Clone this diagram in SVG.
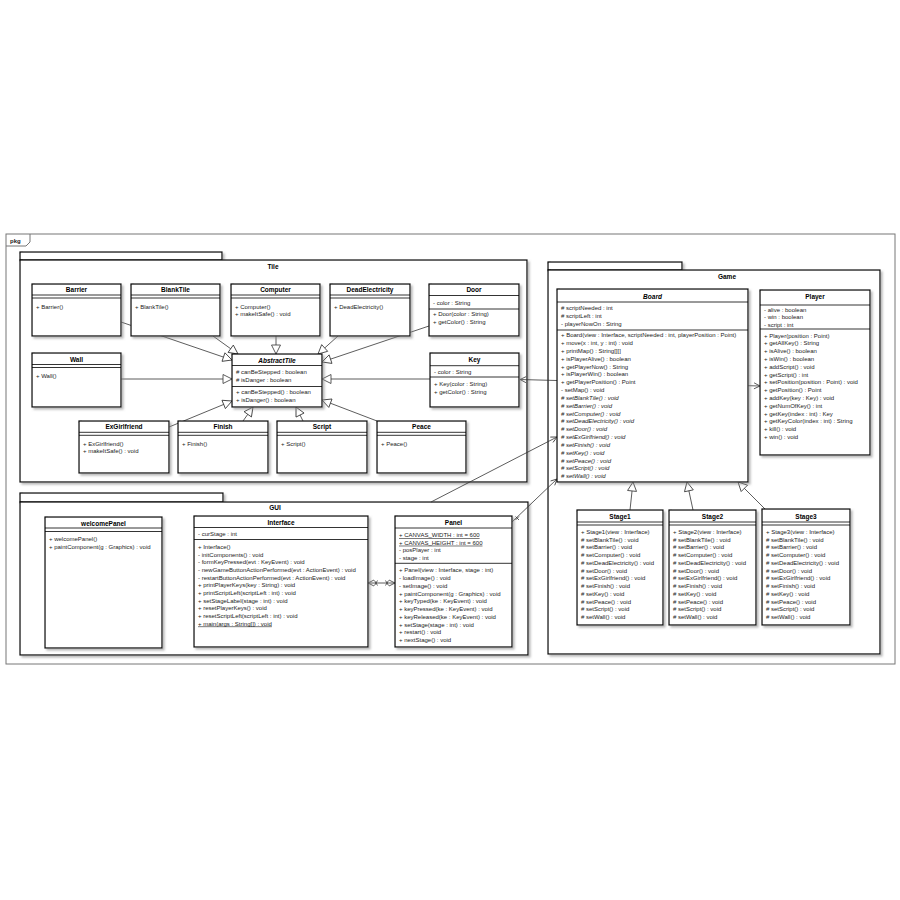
<svg xmlns="http://www.w3.org/2000/svg" width="900" height="900" viewBox="0 0 900 900">
<style>
.bx{fill:#fff;stroke:#000;stroke-width:1.2;filter:url(#sh)}
.pk{fill:#fff;stroke:#000;stroke-width:1.2;filter:url(#sh)}
.ln{stroke:#000;stroke-width:0.8}
.t{font-family:"Liberation Sans",Arial,sans-serif;font-size:6px;fill:#222}
.h{font-family:"Liberation Sans",Arial,sans-serif;font-size:6.5px;font-weight:bold;text-anchor:middle;fill:#000}
.it{font-style:italic}
.u{text-decoration:underline}
.c{stroke:#333;stroke-width:0.8;fill:none}
.g{marker-end:url(#tri)}
.a{marker-end:url(#opn)}
.ab{marker-start:url(#opn);marker-end:url(#opn)}
</style>
<defs>
<filter id="sh" x="-10%" y="-10%" width="130%" height="130%"><feDropShadow dx="2" dy="2" stdDeviation="0.8" flood-color="#888" flood-opacity="0.6"/></filter>
<marker id="tri" viewBox="-11 -6 12 12" refX="0" refY="0" markerWidth="12" markerHeight="12" markerUnits="userSpaceOnUse" orient="auto"><path d="M0,0 L-9,-4.5 L-9,4.5 Z" fill="#fff" stroke="#333" stroke-width="0.8"/></marker>
<marker id="opn" viewBox="-9 -5 10 10" refX="0" refY="0" markerWidth="10" markerHeight="10" markerUnits="userSpaceOnUse" orient="auto-start-reverse"><path d="M-6,-3 L0,0 L-6,3" fill="none" stroke="#333" stroke-width="0.8"/></marker>
</defs>
<rect width="900" height="900" fill="#fff"/>
<g id="pkg">
<rect x="6" y="234" width="889" height="430" fill="none" stroke="#777" stroke-width="1"/>
<path d="M6,246 H26 L30,242 V234" fill="none" stroke="#777" stroke-width="1"/>
<text x="10" y="243" class="t" style="font-weight:bold">pkg</text>
</g>
<g id="pkg-Tile">
<rect class="pk" x="20" y="252" width="202" height="8"/>
<rect class="pk" x="20" y="260" width="507" height="222"/>
<text class="h" x="273" y="269">Tile</text>
</g>
<g id="pkg-Game">
<rect class="pk" x="548" y="262" width="134" height="8"/>
<rect class="pk" x="548" y="270" width="332" height="384"/>
<text class="h" x="727" y="279">Game</text>
</g>
<g id="pkg-GUI">
<rect class="pk" x="20" y="493" width="203" height="9"/>
<rect class="pk" x="20" y="502" width="508" height="153"/>
<text class="h" x="275" y="510">GUI</text>
</g>

<g id="connectors">
<line class="c g" x1="121" y1="322" x2="232" y2="360"/>
<line class="c g" x1="213" y1="336" x2="238" y2="354"/>
<line class="c g" x1="276" y1="336" x2="276" y2="354"/>
<line class="c g" x1="338" y1="336" x2="318" y2="354"/>
<line class="c g" x1="429" y1="326" x2="322" y2="362"/>
<line class="c g" x1="430" y1="379" x2="322" y2="379"/>
<line class="c g" x1="121" y1="379" x2="232" y2="379"/>
<line class="c g" x1="169" y1="427" x2="232" y2="401"/>
<line class="c g" x1="243" y1="421" x2="253" y2="407"/>
<line class="c g" x1="303" y1="421" x2="296" y2="407"/>
<line class="c g" x1="377" y1="421" x2="322" y2="400"/>
<line class="c g" x1="630" y1="510" x2="633" y2="482"/>
<line class="c g" x1="693" y1="510" x2="687" y2="482"/>
<line class="c g" x1="765" y1="509" x2="738" y2="482"/>
<line class="c ab" x1="520" y1="379.5" x2="760" y2="386"/>
<line class="c a" x1="512" y1="522" x2="557" y2="479"/>
<path class="c" d="M515.5,516.5 l3.5,3.5 M519,516.5 l-3.5,3.5"/>
<line class="c a" x1="431" y1="502" x2="557" y2="437"/>
<line class="c ab" x1="368" y1="583" x2="395" y2="583"/>
<path class="c" d="M374.5,580.5 l3,5 M377.5,580.5 l-3,5 M385.5,580.5 l3,5 M388.5,580.5 l-3,5"/>
</g>

<g id="Barrier">
<rect class="bx" x="32" y="284" width="89" height="52"/>
<line class="ln" x1="32" y1="295" x2="121" y2="295"/><line class="ln" x1="32" y1="298" x2="121" y2="298"/>
<text class="h" x="76.5" y="292">Barrier</text>
<text class="t" x="36" y="308.5">+ Barrier()</text>
</g>
<g id="BlankTile">
<rect class="bx" x="131" y="284" width="89" height="52"/>
<line class="ln" x1="131" y1="295" x2="220" y2="295"/><line class="ln" x1="131" y1="298" x2="220" y2="298"/>
<text class="h" x="175.5" y="292">BlankTile</text>
<text class="t" x="135" y="308.5">+ BlankTile()</text>
</g>
<g id="Computer">
<rect class="bx" x="231" y="284" width="89" height="52"/>
<line class="ln" x1="231" y1="295" x2="320" y2="295"/><line class="ln" x1="231" y1="298" x2="320" y2="298"/>
<text class="h" x="275.5" y="292">Computer</text>
<text class="t"><tspan x="235" y="308.5">+ Computer()</tspan><tspan x="235" y="316.2">+ makeItSafe() : void</tspan></text>
</g>
<g id="DeadElectricity">
<rect class="bx" x="330" y="284" width="80" height="52"/>
<line class="ln" x1="330" y1="295" x2="410" y2="295"/><line class="ln" x1="330" y1="298" x2="410" y2="298"/>
<text class="h" x="370" y="292">DeadElectricity</text>
<text class="t" x="334" y="308.5">+ DeadElectricity()</text>
</g>
<g id="Door">
<rect class="bx" x="429" y="284" width="90" height="52"/>
<line class="ln" x1="429" y1="295.5" x2="519" y2="295.5"/><line class="ln" x1="429" y1="309" x2="519" y2="309"/>
<text class="h" x="474" y="292">Door</text>
<text class="t"><tspan x="433" y="304.5">- color : String</tspan><tspan x="433" y="316.3">+ Door(color : String)</tspan><tspan x="433" y="324">+ getColor() : String</tspan></text>
</g>
<g id="Wall">
<rect class="bx" x="32" y="353" width="89" height="54"/>
<line class="ln" x1="32" y1="364.5" x2="121" y2="364.5"/><line class="ln" x1="32" y1="367.5" x2="121" y2="367.5"/>
<text class="h" x="76.5" y="361.5">Wall</text>
<text class="t" x="36" y="378">+ Wall()</text>
</g>
<g id="AbstractTile">
<rect class="bx" x="232" y="354" width="90" height="53"/>
<line class="ln" x1="232" y1="365.5" x2="322" y2="365.5"/><line class="ln" x1="232" y1="386.5" x2="322" y2="386.5"/>
<text class="h it" x="277" y="362.5">AbstractTile</text>
<text class="t"><tspan x="236" y="374"># canBeStepped : boolean</tspan><tspan x="236" y="381.5"># isDanger : boolean</tspan><tspan x="236" y="394">+ canBeStepped() : boolean</tspan><tspan x="236" y="401.5">+ isDanger() : boolean</tspan></text>
</g>
<g id="Key">
<rect class="bx" x="430" y="353" width="89" height="54"/>
<line class="ln" x1="430" y1="365.7" x2="519" y2="365.7"/><line class="ln" x1="430" y1="377" x2="519" y2="377"/>
<text class="h" x="474.5" y="362">Key</text>
<text class="t"><tspan x="434" y="374">- color : String</tspan><tspan x="434" y="386.2">+ Key(color : String)</tspan><tspan x="434" y="394">+ getColor() : String</tspan></text>
</g>
<g id="ExGirlfriend">
<rect class="bx" x="79" y="421" width="90" height="52"/>
<line class="ln" x1="79" y1="432.3" x2="169" y2="432.3"/><line class="ln" x1="79" y1="435.3" x2="169" y2="435.3"/>
<text class="h" x="124" y="429">ExGirlfriend</text>
<text class="t"><tspan x="83" y="445.5">+ ExGirlfriend()</tspan><tspan x="83" y="453.2">+ makeItSafe() : void</tspan></text>
</g>
<g id="Finish">
<rect class="bx" x="178" y="421" width="90" height="52"/>
<line class="ln" x1="178" y1="432.3" x2="268" y2="432.3"/><line class="ln" x1="178" y1="435.3" x2="268" y2="435.3"/>
<text class="h" x="223" y="429">Finish</text>
<text class="t" x="182" y="445.5">+ Finish()</text>
</g>
<g id="Script">
<rect class="bx" x="277" y="421" width="90" height="52"/>
<line class="ln" x1="277" y1="432.3" x2="367" y2="432.3"/><line class="ln" x1="277" y1="435.3" x2="367" y2="435.3"/>
<text class="h" x="322" y="429">Script</text>
<text class="t" x="281" y="445.5">+ Script()</text>
</g>
<g id="Peace">
<rect class="bx" x="377" y="421" width="89" height="52"/>
<line class="ln" x1="377" y1="432.3" x2="466" y2="432.3"/><line class="ln" x1="377" y1="435.3" x2="466" y2="435.3"/>
<text class="h" x="421.5" y="429">Peace</text>
<text class="t" x="381" y="445.5">+ Peace()</text>
</g>

<g id="Board">
<rect class="bx" x="557" y="289" width="191" height="193"/>
<line class="ln" x1="557" y1="302" x2="748" y2="302"/><line class="ln" x1="557" y1="330" x2="748" y2="330"/>
<text class="h it" x="652.5" y="299">Board</text>
<text class="t"><tspan x="561" y="309.5"># scriptNeeded : int</tspan><tspan x="561" y="318"># scriptLeft : int</tspan><tspan x="561" y="326.3">- playerNowOn : String</tspan>
<tspan x="561" y="337.2">+ Board(view : Interface, scriptNeeded : int, playerPosition : Point)</tspan>
<tspan x="561" y="345">+ move(x : int, y : int) : void</tspan>
<tspan x="561" y="352.9">+ printMap() : String[][]</tspan>
<tspan x="561" y="360.7">+ isPlayerAlive() : boolean</tspan>
<tspan x="561" y="368.5">+ getPlayerNow() : String</tspan>
<tspan x="561" y="376.4">+ isPlayerWin() : boolean</tspan>
<tspan x="561" y="384.2">+ getPlayerPosition() : Point</tspan>
<tspan x="561" y="392">- setMap() : void</tspan></text>
<text class="t it"><tspan x="561" y="399.8"># setBlankTile() : void</tspan>
<tspan x="561" y="407.7"># setBarrier() : void</tspan>
<tspan x="561" y="415.5"># setComputer() : void</tspan>
<tspan x="561" y="423.3"># setDeadElectricity() : void</tspan>
<tspan x="561" y="431.2"># setDoor() : void</tspan>
<tspan x="561" y="439"># setExGirlfriend() : void</tspan>
<tspan x="561" y="446.8"># setFinish() : void</tspan>
<tspan x="561" y="454.7"># setKey() : void</tspan>
<tspan x="561" y="462.5"># setPeace() : void</tspan>
<tspan x="561" y="470.3"># setScript() : void</tspan>
<tspan x="561" y="478.1"># setWall() : void</tspan></text>
</g>
<g id="Player">
<rect class="bx" x="760" y="290" width="110" height="165"/>
<line class="ln" x1="760" y1="305" x2="870" y2="305"/><line class="ln" x1="760" y1="329" x2="870" y2="329"/>
<text class="h" x="815" y="298.5">Player</text>
<text class="t"><tspan x="764" y="311.5">- alive : boolean</tspan><tspan x="764" y="319">- win : boolean</tspan><tspan x="764" y="326.5">- script : int</tspan>
<tspan x="764" y="337.5">+ Player(position : Point)</tspan>
<tspan x="764" y="345.3">+ getAllKey() : String</tspan>
<tspan x="764" y="353.1">+ isAlive() : boolean</tspan>
<tspan x="764" y="360.9">+ isWin() : boolean</tspan>
<tspan x="764" y="368.7">+ addScript() : void</tspan>
<tspan x="764" y="376.5">+ getScript() : int</tspan>
<tspan x="764" y="384.3">+ setPosition(position : Point) : void</tspan>
<tspan x="764" y="392.1">+ getPosition() : Point</tspan>
<tspan x="764" y="399.9">+ addKey(key : Key) : void</tspan>
<tspan x="764" y="407.7">+ getNumOfKey() : int</tspan>
<tspan x="764" y="415.5">+ getKey(index : int) : Key</tspan>
<tspan x="764" y="423.3">+ getKeyColor(index : int) : String</tspan>
<tspan x="764" y="431.1">+ kill() : void</tspan>
<tspan x="764" y="438.9">+ win() : void</tspan></text>
</g>
<g id="Stage1">
<rect class="bx" x="577" y="510" width="86" height="115"/>
<line class="ln" x1="577" y1="522" x2="663" y2="522"/><line class="ln" x1="577" y1="525" x2="663" y2="525"/>
<text class="h" x="620" y="519">Stage1</text>
<text class="t"><tspan x="581" y="533.9">+ Stage1(view : Interface)</tspan>
<tspan x="581" y="541.6"># setBlankTile() : void</tspan>
<tspan x="581" y="549.4"># setBarrier() : void</tspan>
<tspan x="581" y="557.1"># setComputer() : void</tspan>
<tspan x="581" y="564.8"># setDeadElectricity() : void</tspan>
<tspan x="581" y="572.6"># setDoor() : void</tspan>
<tspan x="581" y="580.3"># setExGirlfriend() : void</tspan>
<tspan x="581" y="588"># setFinish() : void</tspan>
<tspan x="581" y="595.7"># setKey() : void</tspan>
<tspan x="581" y="603.5"># setPeace() : void</tspan>
<tspan x="581" y="611.2"># setScript() : void</tspan>
<tspan x="581" y="618.9"># setWall() : void</tspan></text>
</g>
<g id="Stage2">
<rect class="bx" x="669" y="510" width="87" height="115"/>
<line class="ln" x1="669" y1="522" x2="756" y2="522"/><line class="ln" x1="669" y1="525" x2="756" y2="525"/>
<text class="h" x="712.5" y="519">Stage2</text>
<text class="t"><tspan x="673" y="533.9">+ Stage2(view : Interface)</tspan>
<tspan x="673" y="541.6"># setBlankTile() : void</tspan>
<tspan x="673" y="549.4"># setBarrier() : void</tspan>
<tspan x="673" y="557.1"># setComputer() : void</tspan>
<tspan x="673" y="564.8"># setDeadElectricity() : void</tspan>
<tspan x="673" y="572.6"># setDoor() : void</tspan>
<tspan x="673" y="580.3"># setExGirlfriend() : void</tspan>
<tspan x="673" y="588"># setFinish() : void</tspan>
<tspan x="673" y="595.7"># setKey() : void</tspan>
<tspan x="673" y="603.5"># setPeace() : void</tspan>
<tspan x="673" y="611.2"># setScript() : void</tspan>
<tspan x="673" y="618.9"># setWall() : void</tspan></text>
</g>
<g id="Stage3">
<rect class="bx" x="762" y="509" width="88" height="116"/>
<line class="ln" x1="762" y1="522" x2="850" y2="522"/><line class="ln" x1="762" y1="525" x2="850" y2="525"/>
<text class="h" x="806" y="518.5">Stage3</text>
<text class="t"><tspan x="766" y="533.9">+ Stage3(view : Interface)</tspan>
<tspan x="766" y="541.6"># setBlankTile() : void</tspan>
<tspan x="766" y="549.4"># setBarrier() : void</tspan>
<tspan x="766" y="557.1"># setComputer() : void</tspan>
<tspan x="766" y="564.8"># setDeadElectricity() : void</tspan>
<tspan x="766" y="572.6"># setDoor() : void</tspan>
<tspan x="766" y="580.3"># setExGirlfriend() : void</tspan>
<tspan x="766" y="588"># setFinish() : void</tspan>
<tspan x="766" y="595.7"># setKey() : void</tspan>
<tspan x="766" y="603.5"># setPeace() : void</tspan>
<tspan x="766" y="611.2"># setScript() : void</tspan>
<tspan x="766" y="618.9"># setWall() : void</tspan></text>
</g>

<g id="welcomePanel">
<rect class="bx" x="45" y="517" width="117" height="131"/>
<line class="ln" x1="45" y1="528" x2="162" y2="528"/><line class="ln" x1="45" y1="531.5" x2="162" y2="531.5"/>
<text class="h" x="103.5" y="525.5">welcomePanel</text>
<text class="t"><tspan x="49" y="540.5">+ welcomePanel()</tspan><tspan x="49" y="548.5">+ paintComponent(g : Graphics) : void</tspan></text>
</g>
<g id="Interface">
<rect class="bx" x="194" y="516" width="174" height="131"/>
<line class="ln" x1="194" y1="527.5" x2="368" y2="527.5"/><line class="ln" x1="194" y1="539.5" x2="368" y2="539.5"/>
<text class="h" x="281" y="524.5">Interface</text>
<text class="t"><tspan x="198" y="536.2">- curStage : int</tspan>
<tspan x="198" y="548.9">+ Interface()</tspan>
<tspan x="198" y="556.6">- initComponents() : void</tspan>
<tspan x="198" y="564.2">- formKeyPressed(evt : KeyEvent) : void</tspan>
<tspan x="198" y="571.9">- newGameButtonActionPerformed(evt : ActionEvent) : void</tspan>
<tspan x="198" y="579.5">- restartButtonActionPerformed(evt : ActionEvent) : void</tspan>
<tspan x="198" y="587.2">+ printPlayerKeys(key : String) : void</tspan>
<tspan x="198" y="594.9">+ printScriptLeft(scriptLeft : int) : void</tspan>
<tspan x="198" y="602.5">+ setStageLabel(stage : int) : void</tspan>
<tspan x="198" y="610.2">+ resetPlayerKeys() : void</tspan>
<tspan x="198" y="617.8">+ resetScriptLeft(scriptLeft : int) : void</tspan></text>
<text class="t u" x="198" y="625.5">+ main(args : String[]) : void</text>
</g>
<g id="Panel">
<rect class="bx" x="395" y="516" width="117" height="131"/>
<line class="ln" x1="395" y1="528" x2="512" y2="528"/><line class="ln" x1="395" y1="563.3" x2="512" y2="563.3"/>
<text class="h" x="453.5" y="524.5">Panel</text>
<text class="t u"><tspan x="399" y="537.2">+ CANVAS_WIDTH : int = 600</tspan><tspan x="399" y="544.7">+ CANVAS_HEIGHT : int = 600</tspan></text>
<text class="t"><tspan x="399" y="552.2">- posPlayer : int</tspan><tspan x="399" y="559.7">- stage : int</tspan>
<tspan x="399" y="572.2">+ Panel(view : Interface, stage : int)</tspan>
<tspan x="399" y="580">- loadImage() : void</tspan>
<tspan x="399" y="587.8">- setImage() : void</tspan>
<tspan x="399" y="595.5">+ paintComponent(g : Graphics) : void</tspan>
<tspan x="399" y="603.3">+ keyTyped(ke : KeyEvent) : void</tspan>
<tspan x="399" y="611.1">+ keyPressed(ke : KeyEvent) : void</tspan>
<tspan x="399" y="618.9">+ keyReleased(ke : KeyEvent) : void</tspan>
<tspan x="399" y="626.7">+ setStage(stage : int) : void</tspan>
<tspan x="399" y="634.4">+ restart() : void</tspan>
<tspan x="399" y="642.2">+ nextStage() : void</tspan></text>
</g>
</svg>
